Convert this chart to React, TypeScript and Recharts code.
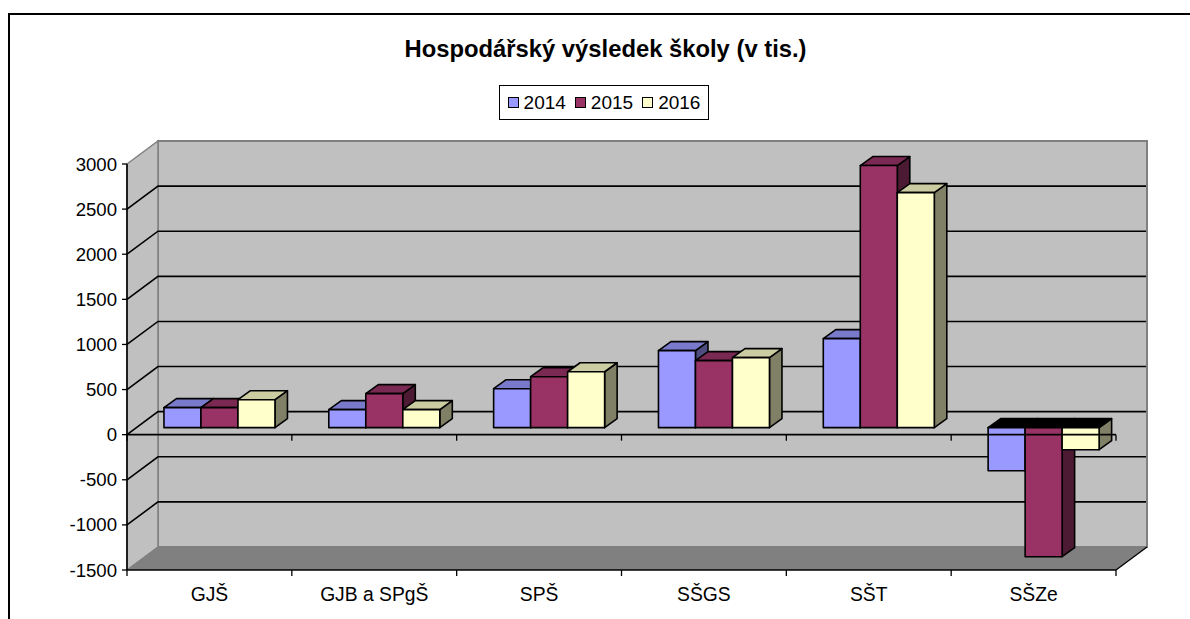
import React from "react";
import { BarChart, Bar, XAxis, YAxis, usePlotArea } from "recharts";

const categories = ["GJŠ", "GJB a SPgŠ", "SPŠ", "SŠGS", "SŠT", "SŠZe"];
const values2014 = [222, 200, 432, 854, 987, -477];
const values2015 = [222, 377, 565, 743, 2905, -1430];
const values2016 = [310, 200, 620, 776, 2605, -244];
const yTicks = [3000, 2500, 2000, 1500, 1000, 500, 0, -500, -1000, -1500];
const years = ["2014", "2015", "2016"];

const rows = categories.map((name, i) => ({
  name,
  y2014: values2014[i],
  y2015: values2015[i],
  y2016: values2016[i],
}));

const seriesStyle = [
  { key: "y2014", front: "#9999FF", top: "#7A7ACC", side: "#4D4D80" },
  { key: "y2015", front: "#993366", top: "#7A2952", side: "#4D1A33" },
  { key: "y2016", front: "#FFFFCC", top: "#CCCCA3", side: "#808066" },
];

const FONT = "'Liberation Sans', Arial, sans-serif";
const WALL_DX = 31;
const WALL_DY = 23;
const BAR_DX = 9.6;
const BAR_DY = 7;
const SIDE_DX = 12.5;
const SIDE_DY = 9;

const Bar3D = ({ x, y, width, height, value, front, top, side }: any) => {
  const val = Array.isArray(value) ? value[1] : value;
  const negative = val < 0;
  const x0 = x + BAR_DX;
  const x1 = x0 + width;
  const y0 = Math.min(y, y + height) - BAR_DY;
  const y1 = Math.max(y, y + height) - BAR_DY;
  const line = { stroke: "#000", strokeWidth: 1.6, strokeLinejoin: "round" as const };
  return (
    <g>
      <polygon
        points={`${x1},${y0} ${x1 + SIDE_DX},${y0 - SIDE_DY} ${x1 + SIDE_DX},${y1 - SIDE_DY} ${x1},${y1}`}
        fill={side}
        {...line}
      />
      <polygon
        points={`${x0},${y0} ${x0 + SIDE_DX},${y0 - SIDE_DY} ${x1 + SIDE_DX},${y0 - SIDE_DY} ${x1},${y0}`}
        fill={negative ? "#000" : top}
        {...line}
      />
      <rect x={x0} y={y0} width={width} height={y1 - y0} fill={front} {...line} />
    </g>
  );
};

// back wall, side wall and floor, they sit behind the bars
const Walls = () => {
  const plot = usePlotArea();
  if (!plot) return null;
  const { x, y, width, height } = plot;
  const r = x + width;
  const b = y + height;
  const yOf = (v: number) => y + ((3000 - v) / 4500) * height;
  return (
    <g>
      <rect x={x + WALL_DX} y={y - WALL_DY} width={width} height={height} fill="#C0C0C0" stroke="#808080" strokeWidth={2} />
      <polygon
        points={`${x},${y} ${x + WALL_DX},${y - WALL_DY} ${x + WALL_DX},${b - WALL_DY} ${x},${b}`}
        fill="#C0C0C0"
        stroke="#808080"
        strokeWidth={1.5}
      />
      <polygon
        points={`${x},${b} ${x + WALL_DX},${b - WALL_DY} ${r + WALL_DX},${b - WALL_DY} ${r},${b}`}
        fill="#808080"
      />
      {yTicks.slice(1, -1).map((t) => (
        <polyline
          key={t}
          points={`${x},${yOf(t)} ${x + WALL_DX},${yOf(t) - WALL_DY} ${r + WALL_DX - 1},${yOf(t) - WALL_DY}`}
          fill="none"
          stroke="#000"
          strokeWidth={1.6}
        />
      ))}
      <line x1={r} y1={b} x2={r + WALL_DX} y2={b - WALL_DY} stroke="#000" strokeWidth={1.3} />
      <line x1={x} y1={b} x2={x + WALL_DX} y2={b - WALL_DY} stroke="#808080" strokeWidth={1} />
      <line x1={x} y1={y} x2={x} y2={b} stroke="#000" strokeWidth={1.6} />
      <line x1={x} y1={b} x2={r} y2={b} stroke="#000" strokeWidth={1.6} />
      {categories.concat("").map((_, i) => {
        const tx = x + (i * width) / categories.length;
        return <line key={i} x1={tx} y1={b} x2={tx} y2={b + 6} stroke="#000" strokeWidth={1.3} />;
      })}
    </g>
  );
};

// zero line runs over the bars, it is drawn from a second chart on top
const ZeroLine = () => {
  const plot = usePlotArea();
  if (!plot) return null;
  const { x, y, width, height } = plot;
  const zero = y + (3000 / 4500) * height;
  return (
    <g>
      <line x1={x} y1={zero} x2={x + width} y2={zero} stroke="#000" strokeWidth={1.6} />
      {categories.concat("").map((_, i) => {
        const tx = x + (i * width) / categories.length;
        return <line key={i} x1={tx} y1={zero} x2={tx} y2={zero + 6} stroke="#000" strokeWidth={1.3} />;
      })}
    </g>
  );
};

const App = () => {
  return (
    <div style={{ position: "absolute", left: 0, top: 0, width: 1190, height: 619, overflow: "hidden", background: "#fff" }}>
      <div style={{ position: "absolute", left: 8, top: 13, width: 1182, height: 606, borderLeft: "2px solid #000", borderTop: "2px solid #000" }} />
      <div
        style={{
          position: "absolute",
          left: 499,
          top: 85,
          width: 208,
          height: 33,
          border: "1.5px solid #000",
          background: "#fff",
          display: "flex",
          alignItems: "center",
          justifyContent: "center",
          fontFamily: FONT,
          fontSize: 19,
          color: "#000",
          zIndex: 2,
        }}
      >
        {years.map((year, i) => (
          <span key={year} style={{ display: "flex", alignItems: "center", marginLeft: i ? 9 : 0 }}>
            <span style={{ width: 9, height: 9, border: "1.5px solid #000", background: seriesStyle[i].front, marginRight: 5 }} />
            {year}
          </span>
        ))}
      </div>
      <BarChart
        width={1190}
        height={619}
        data={rows}
        margin={{ top: 164, right: 74, bottom: 19, left: 67 }}
        barCategoryGap="16.6%"
        barGap={0}
        style={{ position: "absolute", left: 0, top: 0, zIndex: 0 }}
      >
        <text x={605.5} y={57} textAnchor="middle" fontFamily={FONT} fontSize={23.8} fontWeight="bold" fill="#000">
          Hospodářský výsledek školy (v tis.)
        </text>
        <Walls />
        <XAxis
          dataKey="name"
          height={30}
          axisLine={false}
          tickLine={false}
          tickMargin={11}
          interval={0}
          tick={{ fontFamily: FONT, fontSize: 19.3, fill: "#000" }}
        />
        <YAxis
          width={60}
          type="number"
          domain={[-1500, 3000]}
          ticks={yTicks}
          interval={0}
          tickSize={5}
          tickMargin={5}
          axisLine={false}
          tickLine={{ stroke: "#000", strokeWidth: 1.3 }}
          tick={{ fontFamily: FONT, fontSize: 18.6, fill: "#000" }}
        />
        {seriesStyle.map((s) => (
          <Bar
            key={s.key}
            dataKey={s.key}
            isAnimationActive={false}
            fill={s.front}
            shape={(p: any) => <Bar3D {...p} front={s.front} top={s.top} side={s.side} />}
          />
        ))}
      </BarChart>
      <BarChart
        width={1190}
        height={619}
        data={rows}
        margin={{ top: 164, right: 74, bottom: 49, left: 127 }}
        style={{ position: "absolute", left: 0, top: 0, zIndex: 5 }}
      >
        <ZeroLine />
      </BarChart>
    </div>
  );
};

export default App;
